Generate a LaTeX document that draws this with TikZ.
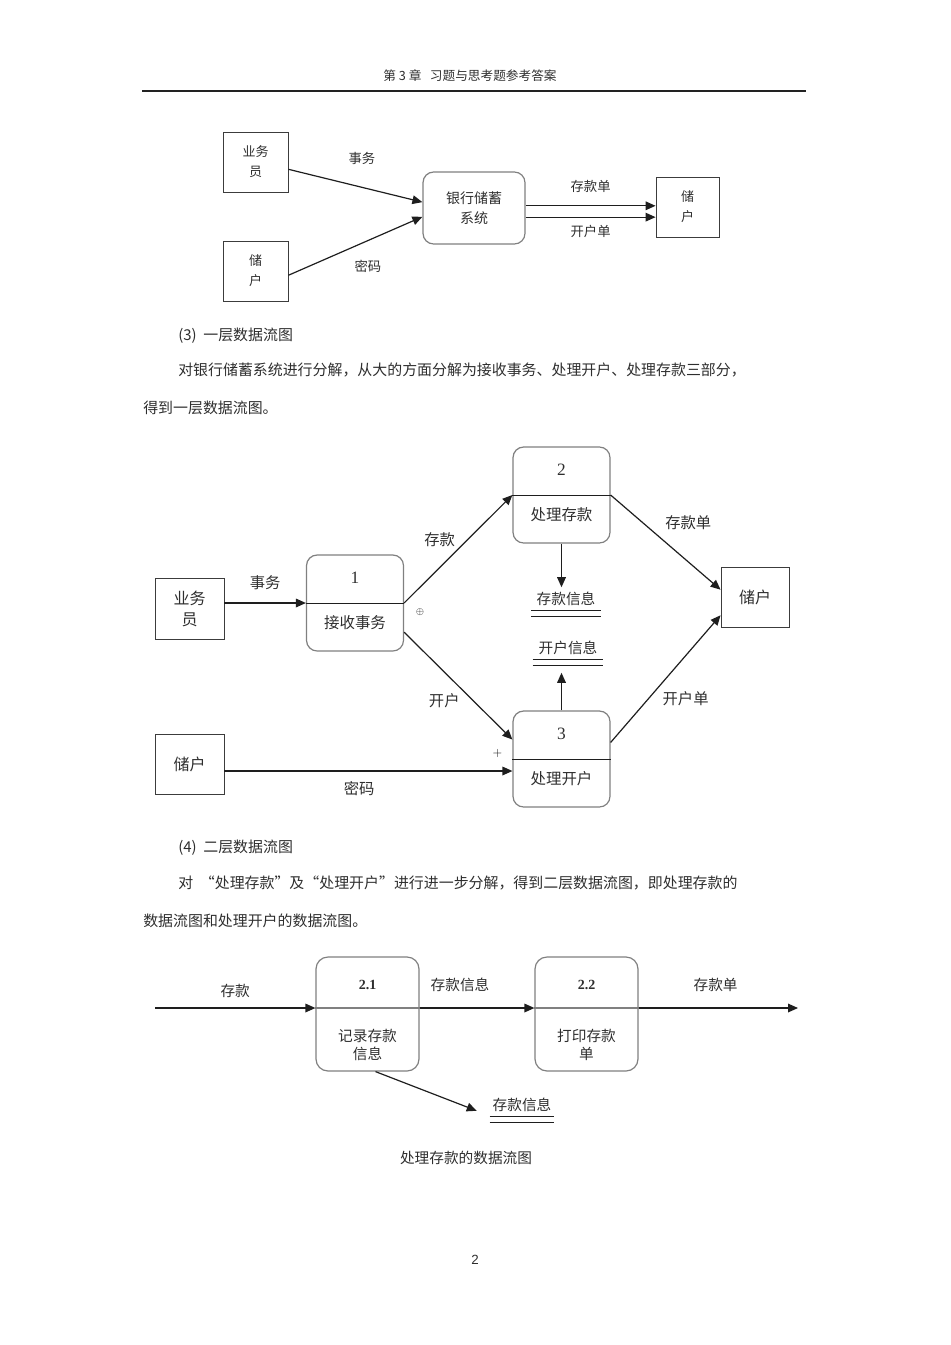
\documentclass[tikz,border=0pt]{standalone}
\usepackage{fontspec}
\setmainfont{Noto Sans CJK SC}
\newfontfamily\numfont{Liberation Serif}
\newfontfamily\pagefont{Liberation Sans}
\usetikzlibrary{positioning, arrows.meta, calc}
\definecolor{clrline}{HTML}{1E1E1E}
\definecolor{clrframe}{HTML}{808080}
\definecolor{clrbox}{HTML}{3C3C3C}
\definecolor{clrtext}{HTML}{2E2E2E}
\definecolor{clrrule}{HTML}{222222}

\begin{document}
\begin{tikzpicture}[
    x=0.75pt, y=-0.75pt,
    >={Triangle[length=7.5pt, width=6.5pt]},
    every node/.style={text=clrtext, font=\fontsize{11}{13}\selectfont},
    entity/.style={draw=clrbox, line width=0.65pt, align=center, inner sep=0pt},
    process/.style={draw=clrframe, line width=0.9pt, rounded corners=8pt, inner sep=0pt},
    divider/.style={color=clrline, line width=0.7pt},
    arrow/.style={->, color=clrline, line width=0.9pt},
    lbl/.style={inner sep=1pt},
    store/.style={inner xsep=0pt, inner ysep=3.5pt},
    storeline/.style={color=clrline, line width=0.7pt},
    para/.style={anchor=west, inner sep=0pt, font=\fontsize{11.2}{13}\selectfont},
]
\useasboundingbox (0,0) rectangle (950,1345);
% page header
\node[font=\fontsize{9.5}{11}\selectfont] (n_head) at (470,76) {第\ 3\ 章\ \ \ 习题与思考题参考答案};
\draw[color=clrrule, line width=1pt] (142,91) -- (806,91);

% context diagram
\node[entity, minimum width=48.75pt, minimum height=45pt, font=\fontsize{9.75}{15}\selectfont] (n_clerk_0) at (255.5,162) {业务\\员};
\node[entity, minimum width=48.75pt, minimum height=45pt, font=\fontsize{9.75}{15}\selectfont] (n_dep_0) at (255.5,271) {储\\户};
\node[process, minimum width=76.5pt, minimum height=54pt, align=center, font=\fontsize{10.5}{15}\selectfont] (n_sys_0) at (474,208) {银行储蓄\\系统};
\node[entity, minimum width=47.25pt, minimum height=45pt, font=\fontsize{9.75}{15}\selectfont] (n_cust_0) at (687.5,207) {储\\户};
\draw[arrow] ($(n_clerk_0.north east)!0.62!(n_clerk_0.south east)$) -- node[lbl, xshift=4.9pt, yshift=20.6pt, font=\fontsize{10}{12}\selectfont] {事务} ($(n_sys_0.north west)!0.42!(n_sys_0.south west)$);
\draw[arrow] ($(n_dep_0.north east)!0.57!(n_dep_0.south east)$) -- node[lbl, xshift=9.4pt, yshift=-15pt, font=\fontsize{10}{12}\selectfont] {密码} ($(n_sys_0.north west)!0.62!(n_sys_0.south west)$);
\coordinate (n_sys_0_o1) at ($(n_sys_0.north east)!0.47!(n_sys_0.south east)$);
\coordinate (n_sys_0_o2) at ($(n_sys_0.north east)!0.625!(n_sys_0.south east)$);
\draw[arrow] (n_sys_0_o1) -- node[lbl, yshift=14.25pt, font=\fontsize{10}{12}\selectfont] {存款单} (n_sys_0_o1 -| n_cust_0.west);
\draw[arrow] (n_sys_0_o2) -- node[lbl, yshift=-10.5pt, font=\fontsize{10}{12}\selectfont] {开户单} (n_sys_0_o2 -| n_cust_0.west);

% text (3)
\node[para] (n_t3a) at (178,336) {(3)\ \ 一层数据流图};
\node[para] (n_t3b) at (178,370) {对银行储蓄系统进行分解，从大的方面分解为接收事务、处理开户、处理存款三部分，};
\node[para] (n_t3c) at (143,408) {得到一层数据流图。};

% level one diagram
\node[entity, minimum width=51.75pt, minimum height=45.75pt, font=\fontsize{12}{15.75}\selectfont] (n_clerk) at (189.5,608.5) {业务\\员};
\node[entity, minimum width=51.75pt, minimum height=45pt, font=\fontsize{12}{15}\selectfont] (n_dep) at (189.5,764) {储户};
\node[entity, minimum width=51pt, minimum height=45pt, font=\fontsize{12}{15}\selectfont] (n_cust) at (755,597) {储户};
\node[process, minimum width=72.75pt, minimum height=72pt] (n_p1) at (355,603) {};
\node[process, minimum width=72.75pt, minimum height=72pt] (n_p2) at (561.5,495) {};
\node[process, minimum width=72.75pt, minimum height=72pt] (n_p3) at (561.5,759) {};
\foreach \p/\num/\title in {n_p1/1/接收事务, n_p2/2/处理存款, n_p3/3/处理开户} {
    \draw[divider] (\p.west) -- (\p.east);
    \node[font=\numfont\fontsize{13}{15}\selectfont] (\p_num) at ($(\p.center)+(0,-25)$) {\num};
    \node[font=\fontsize{11.6}{14}\selectfont] (\p_title) at ($(\p.center)+(0,20)$) {\title};
}
\node[store, minimum width=51.75pt] (n_s_dep) at (566,599) {存款信息};
\draw[storeline] (n_s_dep.south west) -- (n_s_dep.south east) ([yshift=-4.5pt]n_s_dep.south west) -- ([yshift=-4.5pt]n_s_dep.south east);
\node[store, minimum width=52.5pt] (n_s_open) at (568,648) {开户信息};
\draw[storeline] (n_s_open.south west) -- (n_s_open.south east) ([yshift=-4.5pt]n_s_open.south west) -- ([yshift=-4.5pt]n_s_open.south east);
\draw[arrow] (n_clerk.east |- n_p1.west) -- node[lbl, yshift=15pt, font=\fontsize{11.5}{13}\selectfont] {事务} (n_p1.west);
\draw[arrow] (n_p1.east) -- node[lbl, xshift=-14pt, yshift=7pt, font=\fontsize{11.5}{13}\selectfont] {存款} (n_p2.west);
\draw[arrow] ($(n_p1.north east)!0.8!(n_p1.south east)$) -- node[lbl, xshift=-10.5pt, yshift=-11pt, font=\fontsize{11.5}{13}\selectfont] {开户} ($(n_p3.north west)!0.3!(n_p3.south west)$);
\draw[arrow] (n_p2.east) -- node[lbl, xshift=17pt, yshift=15pt, font=\fontsize{11.5}{13}\selectfont] {存款单} ($(n_cust.north west)!0.38!(n_cust.south west)$);
\draw[arrow] ($(n_p3.north east)!0.33!(n_p3.south east)$) -- node[lbl, xshift=15pt, yshift=-15pt, font=\fontsize{11.5}{13}\selectfont] {开户单} ($(n_cust.north west)!0.8!(n_cust.south west)$);
\draw[arrow] (n_p2.south) -- (n_p2.south |- n_s_dep.north);
\draw[arrow] (n_p3.north) -- ([yshift=-9.75pt]n_p3.north |- n_s_open.south);
\draw[arrow] (n_dep.east |- 0,771) -- node[lbl, xshift=-7pt, yshift=-13.5pt, font=\fontsize{11.5}{13}\selectfont] {密码} (n_p3.west |- 0,771);
\node[font=\scriptsize, text=clrline] (n_p1_mark) at ($(n_p1.east)+(16,9)$) {$\oplus$};
\node[font=\small, text=clrline] (n_p3_mark) at ($(n_p3.west)+(-15,-6)$) {$+$};

% text (4)
\node[para] (n_t4a) at (178,848) {(4)\ \ 二层数据流图};
\node[para] (n_t4b) at (178,883) {对\ \ “处理存款”及“处理开户”进行进一步分解，得到二层数据流图，即处理存款的};
\node[para] (n_t4c) at (143,921) {数据流图和处理开户的数据流图。};

% level two diagram
\node[process, minimum width=77.25pt, minimum height=85.5pt, rounded corners=9pt] (n_p21) at (367.5,1014) {};
\node[process, minimum width=77.25pt, minimum height=85.5pt, rounded corners=9pt] (n_p22) at (586.5,1014) {};
\foreach \p/\num/\title in {n_p21/2.1/记录存款\\信息, n_p22/2.2/打印存款\\单} {
    \draw[color=clrframe, line width=0.8pt] ([yshift=4.5pt]\p.west) -- ([yshift=4.5pt]\p.east);
    \node[font=\numfont\bfseries\fontsize{10.5}{12}\selectfont] (\p_num) at ($(\p.center)+(0,-29)$) {\num};
    \node[align=center, font=\fontsize{11}{13.5}\selectfont] (\p_title) at ($(\p.center)+(0,31)$) {\title};
}
\coordinate (n_in2) at (155,1008);
\coordinate (n_out2) at (798,1008);
\node[store, minimum width=48pt] (n_s_rec) at (522,1105) {存款信息};
\draw[storeline] (n_s_rec.south west) -- (n_s_rec.south east) ([yshift=-4.5pt]n_s_rec.south west) -- ([yshift=-4.5pt]n_s_rec.south east);
\draw[arrow] (n_in2) -- node[lbl, yshift=12.75pt] {存款} ([yshift=4.5pt]n_p21.west);
\draw[arrow] ([yshift=4.5pt]n_p21.east) -- node[lbl, xshift=-12.75pt, yshift=17pt] {存款信息} ([yshift=4.5pt]n_p22.west);
\draw[arrow] ([yshift=4.5pt]n_p22.east) -- node[lbl, xshift=-2pt, yshift=17pt] {存款单} (n_out2);
\draw[arrow] ([xshift=6pt]n_p21.south) -- ([xshift=-9.75pt, yshift=4.5pt]n_s_rec.south west);
\node (n_caption) at (466,1158) {处理存款的数据流图};

% page number
\node[font=\pagefont\fontsize{10}{12}\selectfont] (n_page) at (475,1260) {2};
\end{tikzpicture}
\end{document}
